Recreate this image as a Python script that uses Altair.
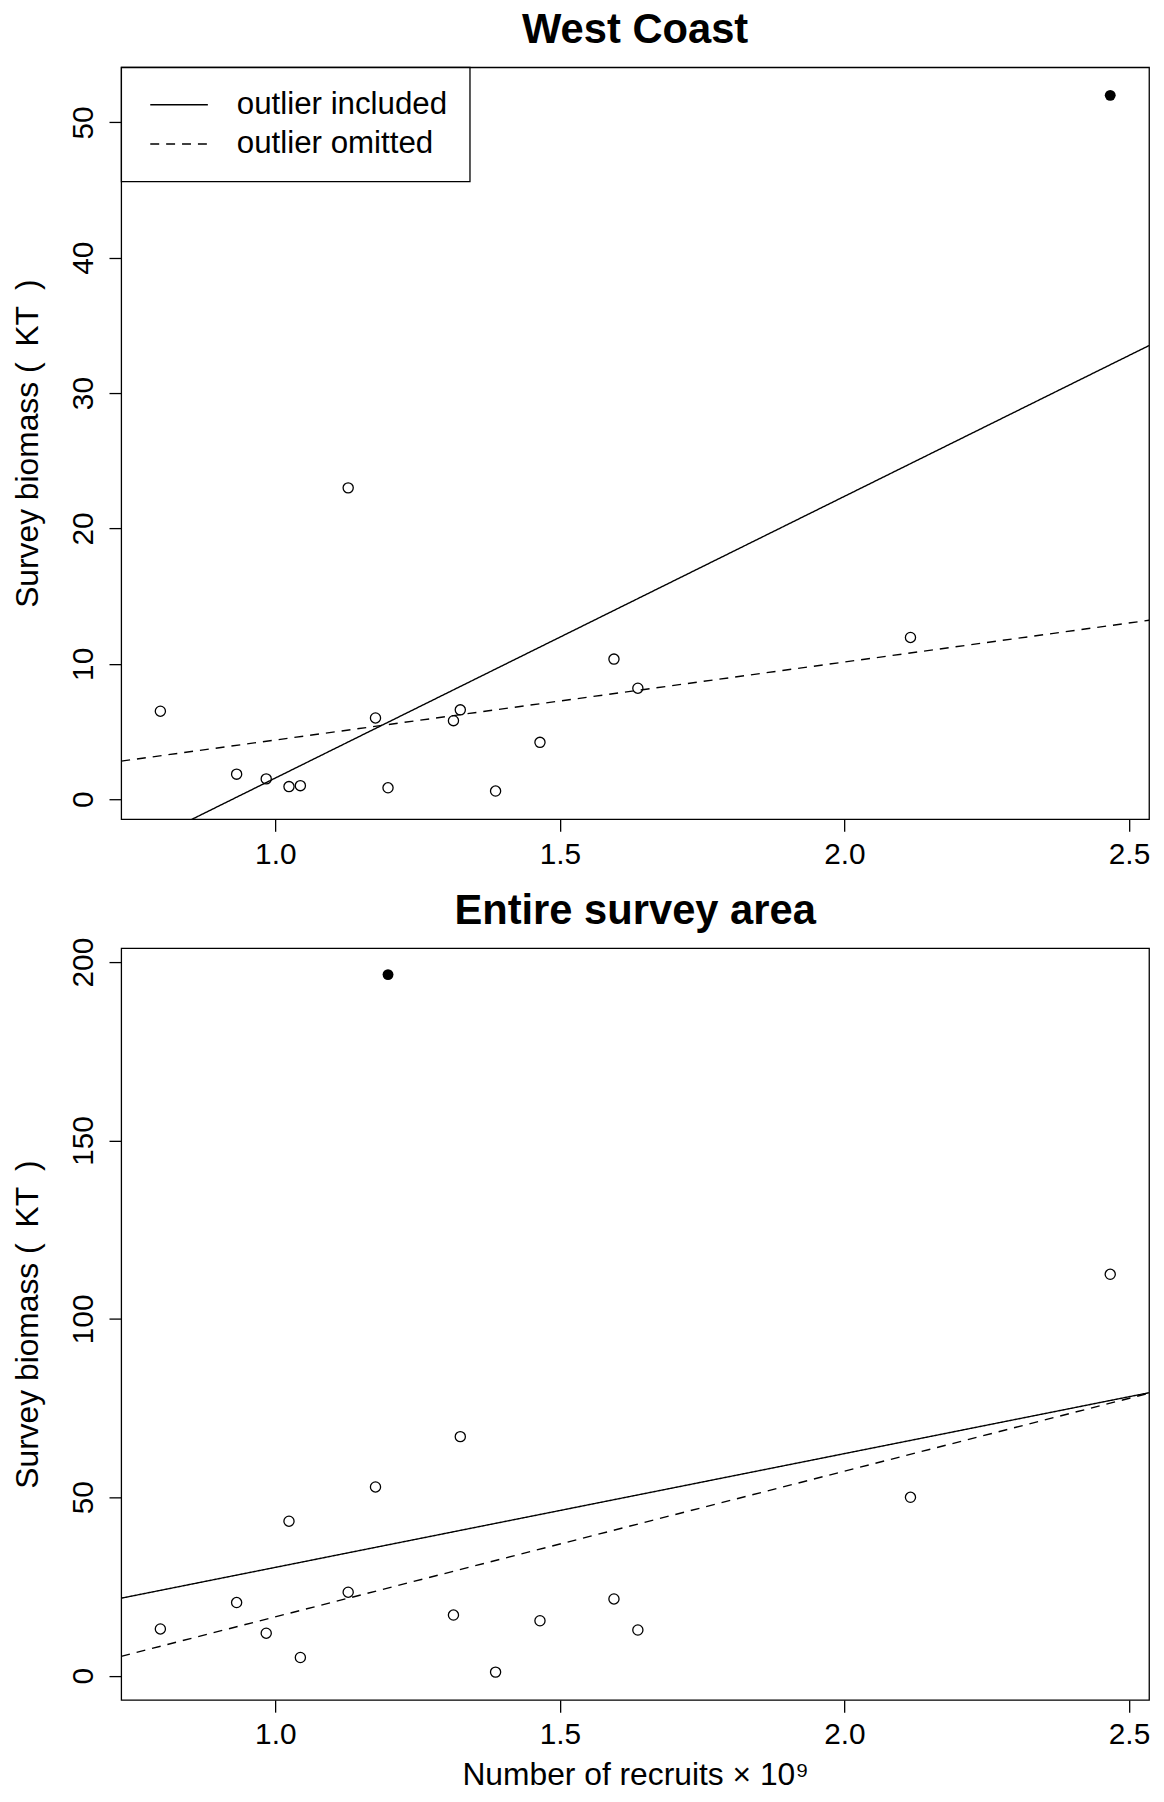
import altair as alt
import pandas as pd

# ---- data ----
recruits = [0.798, 0.932, 0.984, 1.024, 1.044, 1.128, 1.176, 1.198,
            1.313, 1.325, 1.387, 1.465, 1.595, 1.637, 2.116, 2.467]
west_biomass = [6.5, 1.85, 1.5, 0.93, 1.0, 23.0, 6.0, 0.84,
                5.8, 6.6, 0.6, 4.2, 10.35, 8.2, 11.95, 52.0]
west_outlier = [False, False, False, False, False, False, False, False,
                False, False, False, False, False, False, False, True]
total_biomass = [13.1, 20.5, 11.9, 43.3, 5.1, 23.4, 52.9, 196.5,
                 17.0, 67.0, 1.0, 15.4, 21.5, 12.8, 50.0, 112.5]
total_outlier = [False, False, False, False, False, False, False, True,
                 False, False, False, False, False, False, False, False]

fit_labels = ["outlier included", "outlier omitted"]
x_ticks = [1.0, 1.5, 2.0, 2.5]
west_ticks = [0, 10, 20, 30, 40, 50]
total_ticks = [0, 50, 100, 150, 200]
x_domain = [0.7292, 2.5352]
west_domain = [-1.47, 54.07]
total_domain = [-6.8, 203.9]

FONT = "Liberation Sans"
W, H = 1035, 757


def panel(yvals, outl, title, ydomain, yticks, show_legend, show_xtitle, title_offset):
    df = pd.DataFrame({"x": recruits, "y": yvals, "outlier": outl})
    base = alt.Chart(df)

    x_axis = alt.Axis(
        values=x_ticks, format=".1f", labelAngle=0, labelAlign="center",
        labelBaseline="alphabetic", labelPadding=32, labelFlush=False,
        title="Number of recruits \u00d7 10\u2079" if show_xtitle else None,
        titleX=W / 2, titleY=85, titleAlign="center", titleBaseline="alphabetic",
    )
    y_axis = alt.Axis(
        values=yticks, format="d", labelAngle=270, labelAlign="center",
        labelBaseline="alphabetic", labelPadding=16.7,
        title="Survey biomass (\u2002KT\u2002)", titleAngle=270, titleAlign="center",
        titleBaseline="alphabetic", titleX=-84, titleY=H / 2,
    )
    xenc = alt.X("x:Q", scale=alt.Scale(domain=x_domain, nice=False, zero=False), axis=x_axis)
    yenc = alt.Y("y:Q", scale=alt.Scale(domain=ydomain, nice=False, zero=False), axis=y_axis)

    if show_legend:
        legend = alt.Legend(
            title=None, orient="top-left", offset=0, padding=22,
            symbolType="M-2,0H2", symbolSize=841, symbolStrokeWidth=1.4,
            symbolStrokeColor="black", symbolOffset=20.5, labelOffset=42.4,
            labelFont=FONT, labelFontSize=31.5, labelColor="black", labelLimit=500,
            rowPadding=6.4, strokeColor="black", fillColor="white",
        )
    else:
        legend = None
    dash = alt.StrokeDash(
        "fit:N",
        scale=alt.Scale(domain=fit_labels, range=[[1, 0], [9, 7]]),
        legend=legend,
    )

    open_pts = base.transform_filter("!datum.outlier").mark_point(
        shape="circle", filled=False, size=105, strokeWidth=1.3, color="black", opacity=1
    ).encode(x=xenc, y=yenc)
    filled_pts = base.transform_filter("datum.outlier").mark_point(
        shape="circle", filled=True, size=120, color="black", opacity=1
    ).encode(x="x:Q", y="y:Q")
    fit_all = base.transform_regression("x", "y", extent=x_domain).transform_calculate(
        fit="'" + fit_labels[0] + "'"
    ).mark_line(clip=True, strokeWidth=1.4, color="black").encode(
        x="x:Q", y="y:Q", strokeDash=dash
    )
    fit_omit = base.transform_filter("!datum.outlier").transform_regression(
        "x", "y", extent=x_domain
    ).transform_calculate(
        fit="'" + fit_labels[1] + "'"
    ).mark_line(clip=True, strokeWidth=1.4, color="black").encode(
        x="x:Q", y="y:Q", strokeDash=dash
    )

    return alt.layer(open_pts, filled_pts, fit_all, fit_omit).properties(
        width=W, height=H,
        title=alt.TitleParams(
            text=title, font=FONT, fontSize=42, fontWeight="bold", color="black",
            anchor="middle", frame="group", baseline="alphabetic", offset=title_offset,
        ),
    )


top = panel(west_biomass, west_outlier, "West Coast", west_domain, west_ticks,
            True, False, -18)
bottom = panel(total_biomass, total_outlier, "Entire survey area", total_domain, total_ticks,
               False, True, -28.3)

chart = alt.vconcat(top, bottom, spacing=19).resolve_scale(
    x="independent", y="independent", strokeDash="independent"
).resolve_legend(strokeDash="independent").properties(
    padding={"left": 3, "top": -6.5, "right": 5, "bottom": 0},
    background="white",
).configure_view(
    stroke="black", strokeWidth=1.3
).configure_axis(
    domain=False, grid=False, ticks=True, tickColor="black", tickWidth=1.3,
    tickSize=12.3, labelFont=FONT, labelFontSize=30, labelColor="black",
    titleFont=FONT, titleFontSize=32, titleColor="black", titleFontWeight="normal",
).configure_legend(
    strokeWidth=1.3
)

chart.save("out.html", embed_options={"renderer": "svg", "actions": False})
